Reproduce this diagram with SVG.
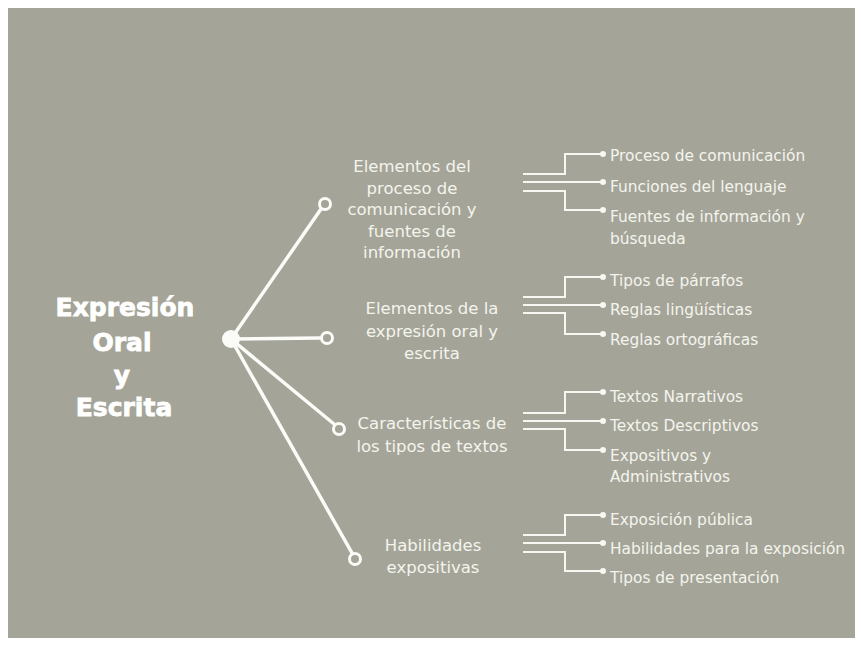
<svg xmlns="http://www.w3.org/2000/svg" width="861" height="648" viewBox="0 0 861 648">
<defs>
<style>
.bg{fill:#a4a598}
.title{font-family:"DejaVu Sans","Liberation Sans",sans-serif;font-weight:bold;font-size:25px;fill:#ffffff;stroke:#ffffff;stroke-width:0.8;text-anchor:middle}
.lbl{font-family:"DejaVu Sans","Liberation Sans",sans-serif;font-size:16.5px;fill:#f4f4ee;text-anchor:middle}
.leaf{font-family:"DejaVu Sans","Liberation Sans",sans-serif;font-size:15.4px;fill:#f4f4ee}
.main{stroke:#fbfbf7;stroke-width:3.5;fill:none;stroke-linecap:round}
.ring{stroke:#fbfbf7;stroke-width:3;fill:#a4a598}
.br{stroke:#f8f8f3;stroke-width:2;fill:none}
.dot{fill:#f8f8f3}
</style>
</defs>
<rect class="bg" x="8" y="8" width="847" height="630"/>

<g id="connectors">
<line class="main" x1="231" y1="339" x2="321" y2="209"/>
<line class="main" x1="231" y1="339" x2="320" y2="338"/>
<line class="main" x1="231" y1="339" x2="334" y2="424"/>
<line class="main" x1="231" y1="339" x2="352" y2="553"/>
<!-- group 1 -->
<polyline class="br" points="523,174 565,174 565,154 603,154"/>
<polyline class="br" points="523,182 603,182"/>
<polyline class="br" points="523,191 565,191 565,210 603,210"/>
<!-- group 2 -->
<polyline class="br" points="523,297 565,297 565,277 603,277"/>
<polyline class="br" points="523,305 603,305"/>
<polyline class="br" points="523,313 565,313 565,334 603,334"/>
<!-- group 3 -->
<polyline class="br" points="523,413 565,413 565,392 603,392"/>
<polyline class="br" points="523,421 603,421"/>
<polyline class="br" points="523,429 565,429 565,450 603,450"/>
<!-- group 4 -->
<polyline class="br" points="523,535 565,535 565,515 603,515"/>
<polyline class="br" points="523,543 603,543"/>
<polyline class="br" points="523,552 565,552 565,571 603,571"/>
</g>

<g id="root">
<circle cx="231" cy="339" r="9" fill="#fbfbf7"/>
<text class="title" x="125" y="316">Expresión</text>
<text class="title" x="122" y="351">Oral</text>
<text class="title" x="122" y="384">y</text>
<text class="title" x="124" y="416">Escrita</text>
</g>

<g id="branch1">
<circle class="ring" cx="325" cy="204" r="5.5"/>
<text class="lbl"><tspan x="412" y="172">Elementos del</tspan><tspan x="412" y="194">proceso de</tspan><tspan x="412" y="215">comunicación y</tspan><tspan x="412" y="237">fuentes de</tspan><tspan x="412" y="258">información</tspan></text>
</g>
<g id="branch2">
<circle class="ring" cx="327" cy="338" r="5.5"/>
<text class="lbl"><tspan x="432" y="314">Elementos de la</tspan><tspan x="432" y="337">expresión oral y</tspan><tspan x="432" y="359">escrita</tspan></text>
</g>
<g id="branch3">
<circle class="ring" cx="339" cy="429" r="5.5"/>
<text class="lbl"><tspan x="432" y="429">Características de</tspan><tspan x="432" y="452">los tipos de textos</tspan></text>
</g>
<g id="branch4">
<circle class="ring" cx="355" cy="559" r="5.5"/>
<text class="lbl"><tspan x="433" y="551">Habilidades</tspan><tspan x="433" y="573">expositivas</tspan></text>
</g>

<g id="leaf1a"><circle class="dot" cx="603" cy="154" r="3"/><text class="leaf" x="610" y="161">Proceso de comunicación</text></g>
<g id="leaf1b"><circle class="dot" cx="603" cy="182" r="3"/><text class="leaf" x="610" y="192">Funciones del lenguaje</text></g>
<g id="leaf1c"><circle class="dot" cx="603" cy="210" r="3"/><text class="leaf"><tspan x="610" y="222">Fuentes de información y</tspan><tspan x="610" y="244">búsqueda</tspan></text></g>

<g id="leaf2a"><circle class="dot" cx="603" cy="277" r="3"/><text class="leaf" x="610" y="286">Tipos de párrafos</text></g>
<g id="leaf2b"><circle class="dot" cx="603" cy="305" r="3"/><text class="leaf" x="610" y="315">Reglas lingüísticas</text></g>
<g id="leaf2c"><circle class="dot" cx="603" cy="334" r="3"/><text class="leaf" x="610" y="345">Reglas ortográficas</text></g>

<g id="leaf3a"><circle class="dot" cx="603" cy="392" r="3"/><text class="leaf" x="610" y="402">Textos Narrativos</text></g>
<g id="leaf3b"><circle class="dot" cx="603" cy="421" r="3"/><text class="leaf" x="610" y="431">Textos Descriptivos</text></g>
<g id="leaf3c"><circle class="dot" cx="603" cy="450" r="3"/><text class="leaf"><tspan x="610" y="461">Expositivos y</tspan><tspan x="610" y="482">Administrativos</tspan></text></g>

<g id="leaf4a"><circle class="dot" cx="603" cy="515" r="3"/><text class="leaf" x="610" y="525">Exposición pública</text></g>
<g id="leaf4b"><circle class="dot" cx="603" cy="543" r="3"/><text class="leaf" x="610" y="554">Habilidades para la exposición</text></g>
<g id="leaf4c"><circle class="dot" cx="603" cy="571" r="3"/><text class="leaf" x="610" y="583">Tipos de presentación</text></g>
</svg>
